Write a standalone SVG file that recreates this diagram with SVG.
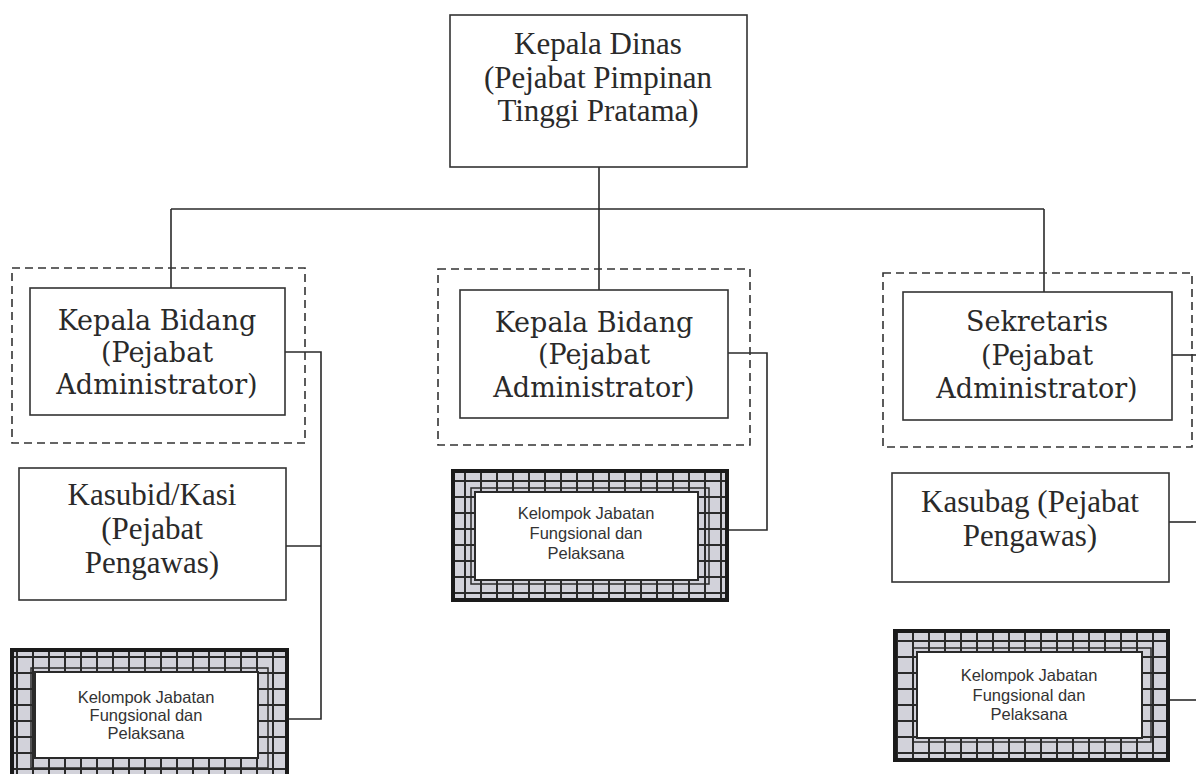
<svg xmlns="http://www.w3.org/2000/svg" width="1196" height="774" viewBox="0 0 1196 774">
<defs>
<pattern id="grid" patternUnits="userSpaceOnUse" width="16" height="16">
<rect width="16" height="16" fill="#d2d2da"/>
<path d="M0 1H16M1 0V16" stroke="#2a2a2a" stroke-width="2"/>
</pattern>
<style>
.box{fill:#fff;stroke:#333;stroke-width:1.6}
.dash{fill:none;stroke:#333;stroke-width:1.6;stroke-dasharray:8 5}
.conn{fill:none;stroke:#2a2a2a;stroke-width:1.6}
.cam{font-family:"Liberation Serif",serif;font-size:31px;fill:#2a2a2a;text-anchor:middle}
.cent{font-family:"DejaVu Serif","Liberation Serif",serif;font-size:27px;fill:#2a2a2a;text-anchor:middle}
.sans{font-family:"Liberation Sans",Arial,sans-serif;font-size:16.5px;fill:#333;text-anchor:middle}
.outer{fill:url(#grid);stroke:#1a1a1a;stroke-width:4}
.inner{fill:#fff;stroke:#2a2a2a;stroke-width:2}
.innerline{fill:none;stroke:#2a2a2a;stroke-width:1.5}
</style>
</defs>
<rect width="1196" height="774" fill="#fff"/>

<g id="connectors">
<path class="conn" d="M599 167V290"/>
<path class="conn" d="M171 209H1044"/>
<path class="conn" d="M171 209V288"/>
<path class="conn" d="M1044 209V292"/>
<path class="conn" d="M285 352H321V719H287"/>
<path class="conn" d="M286 546H321"/>
<path class="conn" d="M728 353H767V530H727"/>
<path class="conn" d="M1172 355H1196"/>
<path class="conn" d="M1169 522H1196"/>
<path class="conn" d="M1168 700H1196"/>
</g>

<g id="kepala-dinas">
<rect class="box" x="450" y="15" width="297" height="152"/>
<text class="cam" x="598" y="54">Kepala Dinas</text>
<text class="cam" x="598" y="88">(Pejabat Pimpinan</text>
<text class="cam" x="598" y="121">Tinggi Pratama)</text>
</g>

<g id="kabid-1">
<rect class="dash" x="12" y="268" width="293" height="175"/>
<rect class="box" x="30" y="288" width="255" height="127"/>
<text class="cent" x="157" y="330">Kepala Bidang</text>
<text class="cent" x="157" y="362">(Pejabat</text>
<text class="cent" x="157" y="394">Administrator)</text>
</g>

<g id="kasubid">
<rect class="box" x="19" y="468" width="267" height="132"/>
<text class="cam" x="152" y="505">Kasubid/Kasi</text>
<text class="cam" x="152" y="539">(Pejabat</text>
<text class="cam" x="152" y="573">Pengawas)</text>
</g>

<g id="kelompok-1">
<rect class="outer" x="12" y="650" width="275" height="130"/>
<rect class="innerline" x="31" y="668" width="237" height="100"/>
<rect class="inner" x="35" y="672" width="223" height="86"/>
<text class="sans" x="146" y="703">Kelompok Jabatan</text>
<text class="sans" x="146" y="721">Fungsional dan</text>
<text class="sans" x="146" y="739">Pelaksana</text>
</g>

<g id="kabid-2">
<rect class="dash" x="438" y="269" width="312" height="176"/>
<rect class="box" x="460" y="290" width="268" height="128"/>
<text class="cent" x="594" y="332">Kepala Bidang</text>
<text class="cent" x="594" y="364">(Pejabat</text>
<text class="cent" x="594" y="397">Administrator)</text>
</g>

<g id="kelompok-2">
<rect class="outer" x="453" y="471" width="274" height="129"/>
<rect class="innerline" x="471" y="488" width="238" height="96"/>
<rect class="inner" x="475" y="492" width="223" height="88"/>
<text class="sans" x="586" y="519">Kelompok Jabatan</text>
<text class="sans" x="586" y="539">Fungsional dan</text>
<text class="sans" x="586" y="559">Pelaksana</text>
</g>

<g id="sekretaris">
<rect class="dash" x="883" y="273" width="309" height="174"/>
<rect class="box" x="903" y="292" width="269" height="128"/>
<text class="cent" x="1037" y="331">Sekretaris</text>
<text class="cent" x="1037" y="365">(Pejabat</text>
<text class="cent" x="1037" y="398">Administrator)</text>
</g>

<g id="kasubag">
<rect class="box" x="892" y="473" width="277" height="109"/>
<text class="cam" x="1030" y="512">Kasubag (Pejabat</text>
<text class="cam" x="1030" y="546">Pengawas)</text>
</g>

<g id="kelompok-3">
<rect class="outer" x="895" y="631" width="273" height="129"/>
<rect class="innerline" x="913" y="648" width="238" height="94"/>
<rect class="inner" x="917" y="652" width="225" height="86"/>
<text class="sans" x="1029" y="681">Kelompok Jabatan</text>
<text class="sans" x="1029" y="701">Fungsional dan</text>
<text class="sans" x="1029" y="720">Pelaksana</text>
</g>
</svg>
